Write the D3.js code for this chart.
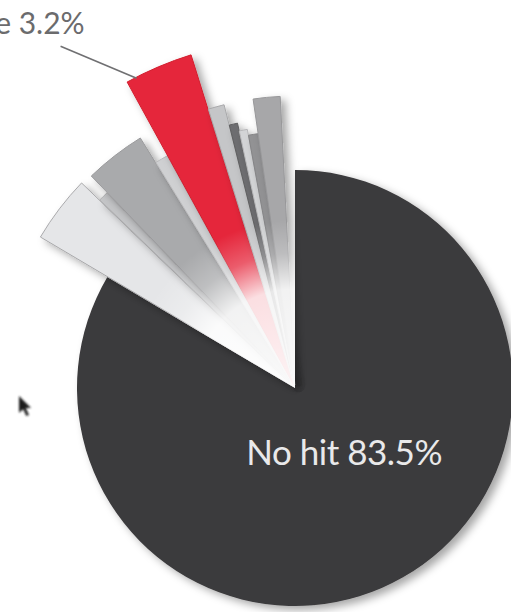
<!DOCTYPE html>
<html>
<head>
<meta charset="utf-8">
<script src="https://cdn.jsdelivr.net/npm/d3@7"></script>
<style>
  html, body { margin: 0; background: #fff; overflow: hidden; }
  text { font-family: Lato, "Open Sans", sans-serif; }
</style>
</head>
<body>
<svg id="chart" width="511" height="612"></svg>
<script>
// Slices, clockwise from 12 o'clock. Only two of them carry a label.
const categories = ['No hit', 's1', 's2', 's3', 's4', 'e', 's6', 's7', 's8', 's9', 's10', 's11'];
const shares = [83.5, 3.7, 0.6, 3.4, 0.8, 3.2, 0.9, 0.5, 0.5, 0.6, 1.5, 0.8];
const labels = ['No hit 83.5%', null, null, null, null, 'e 3.2%', null, null, null, null, null, null];

// Look of each slice (kept apart from the values).
const fills = ['#3b3a3c', '#e5e6e8', '#c4c5c7', '#a9aaac', '#cfd0d2', '#e5283a',
  '#c5c6c8', '#6d6d6f', '#d3d4d6', '#929294', '#a7a7a9', 'none'];
const strokes = ['none', '#a9a9ab', '#b0b0b2', '#9a9a9c', '#bcbcbe', '#d21f30',
  '#a9a9ab', '#5f5f61', '#b8b8ba', '#858587', '#98989a', 'none'];
const reach = [218, 293, 268, 291, 262, 346, 289, 268, 260, 254, 289, 280];

const width = 511;
const height = 612;
const cx = 295;
const cy = 388;
const explode = 3;

const svg = d3.select('#chart');
const defs = svg.append('defs');

defs.append('filter')
  .attr('id', 'shadow')
  .attr('x', '-20%').attr('y', '-20%')
  .attr('width', '150%').attr('height', '150%')
  .append('feDropShadow')
  .attr('dx', 5).attr('dy', 4)
  .attr('stdDeviation', 4)
  .attr('flood-color', '#000')
  .attr('flood-opacity', 0.35);

// Washes the fan out towards the centre, like the reference.
const fade = defs.append('radialGradient')
  .attr('id', 'fade')
  .attr('gradientUnits', 'userSpaceOnUse')
  .attr('cx', 0).attr('cy', 0).attr('r', 300);
[[0, 0.95], [0.33, 0.85], [0.45, 0.25], [0.56, 0]].forEach(([o, a]) => {
  fade.append('stop').attr('offset', o).attr('stop-color', '#fff').attr('stop-opacity', a);
});

defs.append('filter')
  .attr('id', 'soft')
  .append('feGaussianBlur')
  .attr('stdDeviation', 1.2);

const pie = d3.pie().sort(null).value((d) => d.value);
const slices = pie(shares.map((value, i) => ({value, i})));

const g = svg.append('g').attr('transform', `translate(${cx},${cy})`);

const arcFor = (i) => d3.arc().innerRadius(0).outerRadius(reach[i]);

g.selectAll('path.slice')
  .data(slices)
  .enter()
  .append('path')
  .attr('class', 'slice')
  .attr('transform', (d) => {
    if (d.data.i === 0) return null;
    const mid = (d.startAngle + d.endAngle) / 2;
    return `translate(${explode * Math.sin(mid)},${-explode * Math.cos(mid)})`;
  })
  .attr('d', (d) => arcFor(d.data.i)(d))
  .attr('fill', (d) => fills[d.data.i])
  .attr('stroke', (d) => strokes[d.data.i])
  .attr('stroke-width', 1)
  .attr('filter', (d) => (fills[d.data.i] === 'none' ? null : 'url(#shadow)'));

// White wash over the small slices.
const fan = slices.slice(1);
g.append('path')
  .attr('d', d3.arc()({
    innerRadius: 0,
    outerRadius: d3.max(reach) + 10,
    startAngle: fan[0].startAngle,
    endAngle: fan[fan.length - 1].endAngle,
  }))
  .attr('fill', 'url(#fade)');

// Label inside the big slice.
const big = slices[0];
const [lx, ly] = d3.arc().innerRadius(0).outerRadius(reach[0] * 0.78).centroid(big);
g.append('text')
  .attr('x', lx + 7)
  .attr('y', ly - 7)
  .attr('dy', '0.3em')
  .attr('text-anchor', 'middle')
  .attr('fill', '#e9e9ea')
  .attr('font-size', 35)
  .attr('letter-spacing', -0.5)
  .text(labels[0]);

// Leader label for the red slice, running off the left edge.
const red = slices[5];
const redTip = [
  (reach[5] + 2) * Math.sin(red.startAngle + 0.03),
  -(reach[5] + 2) * Math.cos(red.startAngle + 0.03),
];
const lineEnd = [redTip[0] - 76, redTip[1] - 32];
g.append('line')
  .attr('x1', redTip[0]).attr('y1', redTip[1])
  .attr('x2', lineEnd[0]).attr('y2', lineEnd[1])
  .attr('stroke', '#707072')
  .attr('stroke-width', 1.6);
g.append('text')
  .attr('x', lineEnd[0] + 24)
  .attr('y', lineEnd[1] - 12)
  .attr('text-anchor', 'end')
  .attr('fill', '#6b6b6d')
  .attr('font-size', 30)
  .text(labels[5]);

// Mouse pointer caught in the screenshot.
svg.append('path')
  .attr('transform', 'translate(19,396) scale(1.05)')
  .attr('d', 'M0,0 L0,16 L4,12.5 L7,19 L9.5,18 L6.5,11.5 L11.5,11.5 Z')
  .attr('fill', '#1f1f1f')
  .attr('filter', 'url(#soft)');
</script>
</body>
</html>
